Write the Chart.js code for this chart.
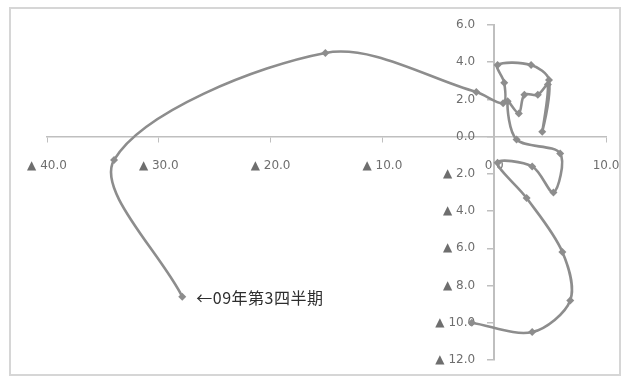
<!DOCTYPE html>
<html>
<head>
<meta charset="utf-8">
<script src="https://cdn.jsdelivr.net/npm/chart.js@4"></script>
<style>
  html, body { margin: 0; padding: 0; background: #ffffff; }
  #wrap { width: 622px; height: 377px; position: relative; }
</style>
</head>
<body>
<div id="wrap"><canvas id="c" width="622" height="377"></canvas></div>
<script>
// Quarterly path: horizontal and vertical change (%), oldest to newest
const xValues = [-2.0, 3.4, 6.8, 6.1, 2.9, 0.3, 3.4, 5.3, 5.9, 2.0,
                 1.2, 2.2, 2.7, 3.9, 4.8, 4.3, 4.9, 3.3, 0.3, 0.9,
                 0.8, -1.6, -15.1, -34.0, -27.9];
const yValues = [-10.0, -10.5, -8.8, -6.2, -3.3, -1.4, -1.6, -3.0, -0.9, -0.15,
                 1.9, 1.25, 2.25, 2.25, 2.8, 0.27, 3.05, 3.85, 3.85, 2.9,
                 1.8, 2.4, 4.5, -1.25, -8.6];
const xTicks = [-40, -30, -20, -10, 0, 10];
const yTicks = [-12, -10, -8, -6, -4, -2, 0, 2, 4, 6];
const lastPointLabel = '←09年第3四半期';

const axisGray = '#bfbfbf';
const lineGray = '#8d8d8d';
const tickFont = { family: 'DejaVu Sans', size: 12 };

// Negative values are written with a leading ▲ instead of a minus sign
function fmt(v) {
  return v < 0 ? '▲ ' + Math.abs(v).toFixed(1) : v.toFixed(1);
}
// Vertical-axis labels sit a little left of the axis line
function fmtY(v) {
  return fmt(v) + '     ';
}

const framePlugin = {
  id: 'frame',
  beforeDraw(chart) {
    const ctx = chart.ctx;
    ctx.save();
    ctx.fillStyle = '#ffffff';
    ctx.fillRect(0, 0, chart.width, chart.height);
    ctx.restore();
  },
  afterDraw(chart) {
    const ctx = chart.ctx;
    ctx.save();
    ctx.strokeStyle = '#d6d6d6';
    ctx.lineWidth = 2;
    ctx.strokeRect(10, 8, 610, 367);
    ctx.restore();
  }
};

const lastLabelPlugin = {
  id: 'lastLabel',
  afterDatasetsDraw(chart) {
    const pts = chart.getDatasetMeta(0).data;
    const p = pts[pts.length - 1];
    const ctx = chart.ctx;
    ctx.save();
    ctx.font = '16px "Noto Sans CJK JP"';
    if ('letterSpacing' in ctx) ctx.letterSpacing = '0.5px';
    ctx.fillStyle = '#2e2e2e';
    ctx.textAlign = 'left';
    ctx.textBaseline = 'middle';
    ctx.fillText(lastPointLabel, p.x + 14, p.y + 1);
    ctx.restore();
  }
};

new Chart(document.getElementById('c'), {
  type: 'scatter',
  data: {
    datasets: [{
      data: xValues.map((x, i) => ({ x: x, y: yValues[i] })),
      showLine: true,
      tension: 0.32,
      borderColor: lineGray,
      borderWidth: 2.6,
      pointStyle: 'rectRot',
      pointRadius: 4,
      pointBackgroundColor: lineGray,
      pointBorderColor: lineGray,
      pointBorderWidth: 0
    }]
  },
  options: {
    responsive: false,
    animation: false,
    layout: { padding: { left: 47, top: 25, right: 16, bottom: 17 } },
    plugins: { legend: { display: false }, tooltip: { enabled: false } },
    scales: {
      x: {
        type: 'linear',
        min: -40, max: 10,
        position: { y: 0 },
        afterBuildTicks(scale) { scale.ticks = xTicks.map(v => ({ value: v })); },
        afterFit(scale) { scale.paddingLeft = 0; scale.paddingRight = 0; },
        ticks: { callback: fmt, font: tickFont, color: '#6e6e6e', padding: 17, maxRotation: 0, autoSkip: false },
        grid: { drawOnChartArea: false, drawTicks: true, tickLength: 5, color: axisGray },
        border: { color: axisGray, width: 1.5 }
      },
      y: {
        type: 'linear',
        min: -12, max: 6,
        position: { x: 0 },
        afterBuildTicks(scale) { scale.ticks = yTicks.map(v => ({ value: v })); },
        ticks: { callback: fmtY, font: tickFont, color: '#6e6e6e', padding: 8, autoSkip: false },
        grid: { drawOnChartArea: false, drawTicks: true, tickLength: 6, lineWidth: 1.5, color: axisGray },
        border: { color: axisGray, width: 2 }
      }
    }
  },
  plugins: [framePlugin, lastLabelPlugin]
});
</script>
</body>
</html>
